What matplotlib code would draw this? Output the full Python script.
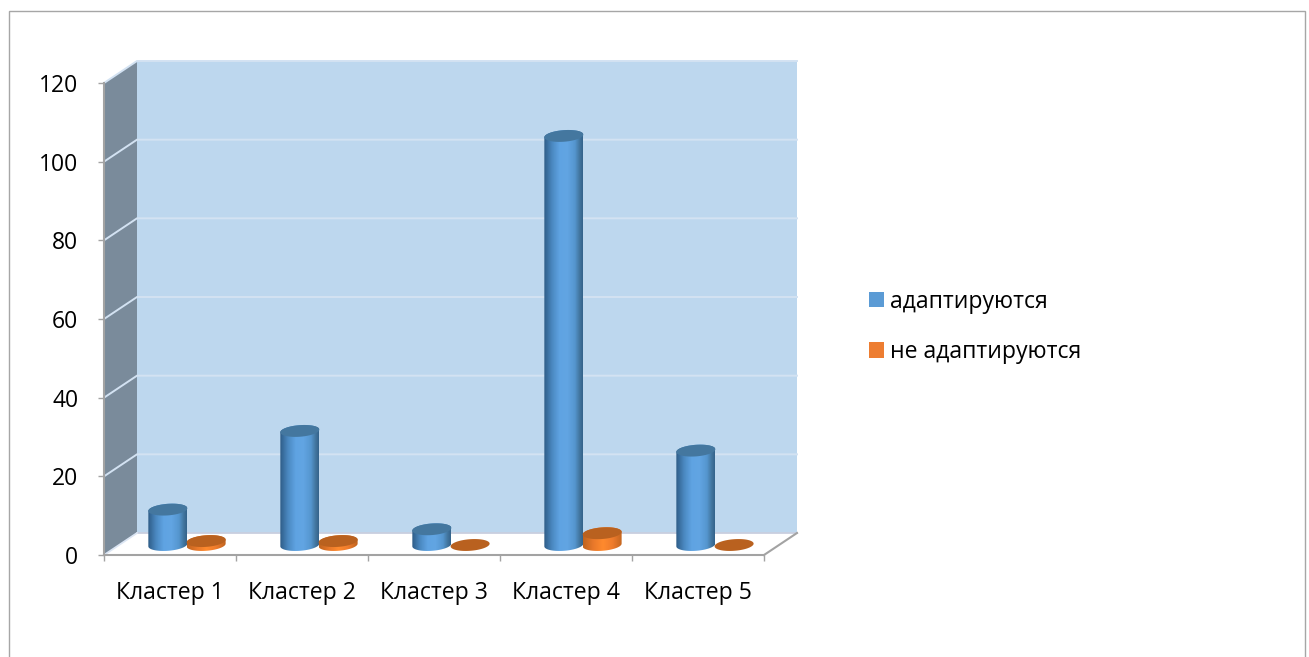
import numpy as np
import matplotlib
matplotlib.use("Agg")
import matplotlib.pyplot as plt
from matplotlib.patches import Patch, Polygon, Rectangle
from matplotlib.colors import LinearSegmentedColormap

plt.rcParams['font.family'] = ['Open Sans', 'DejaVu Sans']

categories = ["Кластер 1", "Кластер 2", "Кластер 3", "Кластер 4", "Кластер 5"]
adapt = [9, 29, 4, 104, 24]
not_adapt = [1, 1, 0, 3, 0]
series_names = ["адаптируются", "не адаптируются"]
y_ticks = [0, 20, 40, 60, 80, 100, 120]

W, H = 1309, 657
fig = plt.figure(figsize=(W / 100, H / 100), dpi=100)
ax = fig.add_axes([104 / W, 1 - 555 / H, 660 / W, 472 / H])
ax.set_xlim(0, 5)
ax.set_ylim(0, 120)

# pixel sizes in data units
px_x = 5 / 660
px_y = 120 / 472
dx = 33 * px_x
dy = 22 * px_y

wall = "#bdd7ee"
side = "#7a8b9b"
grid = "#d3e2f2"
axis_grey = "#a3a3a3"

# outer frame
fig.add_artist(Rectangle((8.5 / W, -0.01), 1296 / W, 1 - 10.5 / H + 0.01, transform=fig.transFigure,
                         fill=False, ec="#a6a6a6", lw=1.0))

# walls and floor
ax.add_patch(Polygon([(dx, 0 + dy), (5 + dx, dy), (5 + dx, 120 + dy), (dx, 120 + dy)],
                     fc=wall, ec="none", clip_on=False, zorder=1))
ax.add_patch(Polygon([(0, 0), (dx, dy), (dx, 120 + dy), (0, 120)], fc=side, ec="none", clip_on=False, zorder=1))
ax.add_patch(Polygon([(0, 0), (5, 0), (5 + dx, dy), (dx, dy)], fc="white", ec="none", clip_on=False, zorder=1))
ax.plot([dx, 5 + dx], [dy, dy], color="#c9cfdf", lw=1.3, clip_on=False, zorder=2)

for v in y_ticks[1:]:
    ax.plot([0, dx, 5 + dx], [v, v + dy, v + dy], color=grid, lw=1.4, clip_on=False, zorder=2,
            solid_joinstyle="miter")

ax.plot([5, 5 + dx], [0, dy], color=axis_grey, lw=1.5, clip_on=False, zorder=3)
ax.plot([0, dx], [0, dy], color="#dbe5f3", lw=1.3, clip_on=False, zorder=2)


def cylinder(cx, value, cmap, top_color):
    a = 19.5 * px_x
    b = 5.8 * px_y
    tilt = 0.07 * px_y / px_x
    base = 10 * px_y
    x0 = cx + 15 * px_x
    t = np.linspace(0, 2 * np.pi, 80)
    ex = a * np.cos(t)
    ey = b * np.sin(t) + tilt * ex
    # lower half of the base ellipse, upper half of the top ellipse
    low = np.linspace(np.pi, 2 * np.pi, 40)
    lx = a * np.cos(low)
    ly = b * np.sin(low) + tilt * lx
    hi = np.linspace(0, np.pi, 40)
    hx = a * np.cos(hi)
    hy = b * np.sin(hi) + tilt * hx
    pts = np.vstack([np.column_stack([x0 + lx, base + ly]),
                     np.column_stack([x0 + hx, base + value + hy])])
    if value > 0:
        body = Polygon(pts, fc="none", ec="none", zorder=4)
        ax.add_patch(body)
        im = ax.imshow(np.linspace(0, 1, 64).reshape(1, -1), cmap=cmap, aspect="auto",
                       extent=(x0 - a, x0 + a, base - 2 * b, base + value + 2 * b),
                       interpolation="bilinear", zorder=4)
        im.set_clip_path(body)
    ax.add_patch(Polygon(np.column_stack([x0 + ex, base + value + ey]), fc=top_color, ec="none", zorder=5))


blue_map = LinearSegmentedColormap.from_list("b", [(0, "#2f5d88"), (0.2, "#4a88c0"), (0.4, "#5fa3e2"), (0.6, "#62a5e3"),
                                                   (0.8, "#5596cf"), (0.92, "#42769f"), (1, "#35648c")])
orange_map = LinearSegmentedColormap.from_list("o", ["#c0641f", "#e8782a", "#ff8a2e", "#ee7b2c", "#c0641f"])

for i in range(len(categories)):
    cylinder(i + 0.37, adapt[i], blue_map, "#44779f")
    cylinder(i + 0.66, not_adapt[i], orange_map, "#b9611f")

ax.set_xlim(0, 5)
ax.set_ylim(0, 120)

for s in ("top", "right"):
    ax.spines[s].set_visible(False)
for s in ("left", "bottom"):
    ax.spines[s].set_color(axis_grey)
    ax.spines[s].set_linewidth(1.5)
    ax.spines[s].set_zorder(3)
ax.patch.set_visible(False)

ax.set_yticks(y_ticks)
ax.set_xticks(np.arange(len(categories)) + 0.5)
ax.set_xticklabels(categories)
ax.set_xticks(np.arange(len(categories) + 1), minor=True)
ax.tick_params(axis="x", which="major", length=0, pad=18.5, labelsize=16.6, labelcolor="black")
ax.tick_params(axis="x", which="minor", length=4.5, width=1, color=axis_grey)
ax.tick_params(axis="y", length=4.5, width=1, color=axis_grey, pad=14, labelsize=16.5)

handles = [Patch(fc="#5b9bd5", label=series_names[0]), Patch(fc="#ed7d31", label=series_names[1])]
fig.legend(handles=handles, loc="center left", bbox_to_anchor=(869 / W, 1 - 327 / H), frameon=False,
           fontsize=16.6, handlelength=0.66, handleheight=0.66, handletextpad=0.27, labelspacing=1.15,
           borderpad=0, borderaxespad=0)

fig.savefig("out.png", dpi=100, facecolor="white")
